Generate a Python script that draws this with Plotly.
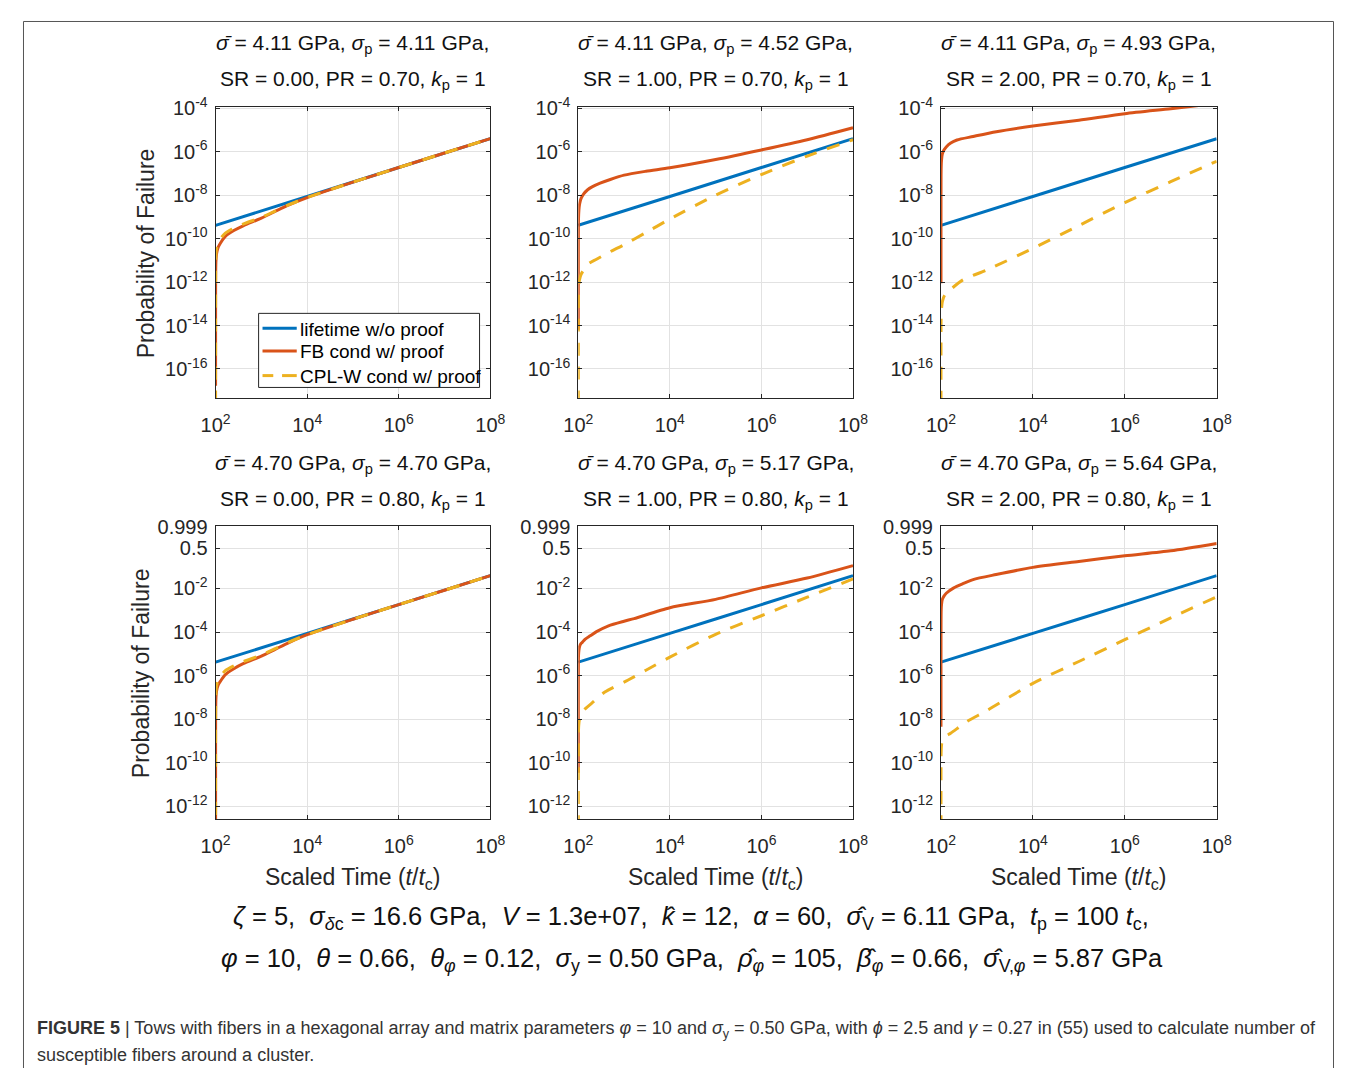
import numpy as np
import plotly.graph_objects as go

# The page keeps the browser's default 8px body margin, so the figure itself is
# sized to fill the remaining 1341 x 1060 area of the 1357 x 1076 window.
WIN_W, WIN_H = 1357, 1076
OFF = 8
FW, FH = WIN_W - 2 * OFF, WIN_H - 2 * OFF
FONT = "Liberation Sans, Arial, Helvetica, sans-serif"
C_BLUE, C_RED, C_YEL = "#0072BD", "#D95319", "#EDB120"
AX = "#262626"

# ---------------- axis ticks ----------------
xtick_vals = [1e2, 1e4, 1e6, 1e8]
xtick_text = ["10<sup>2</sup>", "10<sup>4</sup>", "10<sup>6</sup>", "10<sup>8</sup>"]
top_ytick_vals = [1e-16, 1e-14, 1e-12, 1e-10, 1e-8, 1e-6, 1e-4]
top_ytick_text = ["10<sup>-16</sup>", "10<sup>-14</sup>", "10<sup>-12</sup>", "10<sup>-10</sup>",
                  "10<sup>-8</sup>", "10<sup>-6</sup>", "10<sup>-4</sup>"]
bot_ytick_probs = [1e-12, 1e-10, 1e-8, 1e-6, 1e-4, 1e-2, 0.5, 0.999]
bot_ytick_text = ["10<sup>-12</sup>", "10<sup>-10</sup>", "10<sup>-8</sup>", "10<sup>-6</sup>",
                  "10<sup>-4</sup>", "10<sup>-2</sup>", "0.5", "0.999"]

# ---------------- data (scaled time t/t_c, log10 of probability of failure) ----------------
life_t = [1e2, 1e4, 1e6, 1e8]
top_life_lp = [-9.39, -8.06, -6.73, -5.40]
bot_life_lp = [-5.38, -4.06, -2.74, -1.418]

# top row, SR = 0.00
a1_fb_t = [100, 100.1, 100.5, 102, 105, 114, 128, 163, 250, 400, 1000, 2000, 4000, 1e4, 1e5, 1e6, 1e7, 1e8]
a1_fb_lp = [-16.77, -12.5, -11.5, -11.0, -10.7, -10.4, -10.2, -9.9, -9.63, -9.41, -9.06, -8.75, -8.45, -8.11, -7.40, -6.73, -6.06, -5.40]
a1_cpl_t = a1_fb_t
a1_cpl_lp = [-17.6, -12.0, -11.2, -10.7, -10.45, -10.2, -10.0, -9.75, -9.52, -9.33, -9.02, -8.73, -8.44, -8.11, -7.40, -6.73, -6.06, -5.40]

# top row, SR = 1.00
a2_fb_t = [100, 100.05, 100.2, 100.5, 101, 103, 107, 115, 130, 160, 200, 300, 500, 1000, 3000, 1e4, 1e5, 1e6, 1e7, 1e8]
a2_fb_lp = [-14.2, -11.5, -10.2, -9.5, -9.1, -8.7, -8.4, -8.15, -7.95, -7.75, -7.62, -7.45, -7.28, -7.08, -6.9, -6.74, -6.36, -5.92, -5.45, -4.90]
a2_cpl_t = [100, 100.1, 100.5, 102, 106, 115, 130, 170, 250, 500, 1000, 3000, 1e4, 1e5, 1e6, 1e7, 1e8]
a2_cpl_lp = [-17.6, -13.5, -12.6, -12.2, -11.9, -11.65, -11.45, -11.15, -10.95, -10.6, -10.28, -9.72, -9.1, -8.0, -7.05, -6.2, -5.45]

# top row, SR = 2.00
a3_fb_t = [100, 100.02, 100.1, 100.3, 101, 103, 107, 116, 130, 163, 223, 500, 1600, 1e4, 1e5, 1e6, 1e7, 1e8]
a3_fb_lp = [-12.05, -9.5, -8.0, -7.2, -6.7, -6.35, -6.1, -5.92, -5.78, -5.6, -5.46, -5.3, -5.08, -4.82, -4.55, -4.25, -4.02, -3.78]
a3_cpl_t = [100, 100.1, 100.5, 102, 107, 120, 160, 300, 1000, 1e4, 1e5, 1e6, 1e7, 1e8]
a3_cpl_lp = [-17.6, -14.5, -13.7, -13.3, -12.9, -12.6, -12.35, -11.9, -11.44, -10.45, -9.4, -8.34, -7.38, -6.44]

# bottom row, SR = 0.00
b1_fb_t = a1_fb_t
b1_fb_lp = [-13.0, -8.5, -7.5, -7.0, -6.7, -6.42, -6.25, -5.95, -5.68, -5.45, -5.1, -4.79, -4.48, -4.12, -3.41, -2.74, -2.08, -1.418]
b1_cpl_t = a1_fb_t
b1_cpl_lp = [-13.5, -8.0, -7.2, -6.7, -6.45, -6.2, -6.02, -5.77, -5.55, -5.36, -5.05, -4.76, -4.46, -4.12, -3.41, -2.74, -2.08, -1.418]

# bottom row, SR = 1.00
b2_fb_t = [100, 100.05, 100.2, 100.5, 101, 103, 107, 115, 122, 140, 182, 250, 457, 1000, 1660, 1e4, 1e5, 1e6, 1e7, 1e8]
b2_fb_lp = [-10.45, -7.5, -6.2, -5.5, -5.1, -4.85, -4.65, -4.52, -4.47, -4.33, -4.17, -3.98, -3.71, -3.5, -3.38, -2.88, -2.50, -1.972, -1.527, -0.974]
b2_cpl_t = [100, 100.1, 100.5, 102, 106, 115, 145, 200, 380, 1200, 3000, 1e4, 1e5, 1e6, 1e7, 1e8]
b2_cpl_lp = [-13.0, -9.5, -8.7, -8.3, -8.0, -7.75, -7.5, -7.25, -6.75, -6.21, -5.75, -5.15, -4.1, -3.25, -2.4, -1.565]

# bottom row, SR = 2.00
b3_fb_t = [100, 100.02, 100.1, 100.3, 101, 103, 107, 116, 130, 190, 300, 500, 1585, 1e4, 1e5, 1e6, 1e7, 1e8]
b3_fb_lp = [-8.34, -5.6, -4.2, -3.5, -3.0, -2.7, -2.5, -2.35, -2.22, -1.972, -1.784, -1.596, -1.369, -1.05, -0.797, -0.567, -0.381, -0.161]
b3_cpl_t = [100, 100.1, 100.5, 102, 107, 120, 162, 363, 1000, 1e4, 1e5, 1e6, 1e7, 1e8]
b3_cpl_lp = [-13.0, -10.2, -9.6, -9.25, -8.95, -8.8, -8.64, -8.11, -7.6, -6.35, -5.35, -4.35, -3.35, -2.38]

titles_line1 = [
    "<i>σ̄</i> = 4.11 GPa, <i>σ</i><sub>p</sub> = 4.11 GPa,",
    "<i>σ̄</i> = 4.11 GPa, <i>σ</i><sub>p</sub> = 4.52 GPa,",
    "<i>σ̄</i> = 4.11 GPa, <i>σ</i><sub>p</sub> = 4.93 GPa,",
    "<i>σ̄</i> = 4.70 GPa, <i>σ</i><sub>p</sub> = 4.70 GPa,",
    "<i>σ̄</i> = 4.70 GPa, <i>σ</i><sub>p</sub> = 5.17 GPa,",
    "<i>σ̄</i> = 4.70 GPa, <i>σ</i><sub>p</sub> = 5.64 GPa,",
]
titles_line2 = [
    "SR = 0.00, PR = 0.70, <i>k</i><sub>p</sub> = 1",
    "SR = 1.00, PR = 0.70, <i>k</i><sub>p</sub> = 1",
    "SR = 2.00, PR = 0.70, <i>k</i><sub>p</sub> = 1",
    "SR = 0.00, PR = 0.80, <i>k</i><sub>p</sub> = 1",
    "SR = 1.00, PR = 0.80, <i>k</i><sub>p</sub> = 1",
    "SR = 2.00, PR = 0.80, <i>k</i><sub>p</sub> = 1",
]
series_names = ["lifetime w/o proof", "FB cond w/ proof", "CPL-W cond w/ proof"]


def weibull_scale(p):
    p = np.asarray(p, dtype=float)
    return np.log10(-np.log1p(-p))


# window-pixel geometry of the reference
col_px = [(205, 486), (576, 857), (947, 1229)]
row_px = [(95, 390), (519, 816)]


def px_x(x):
    return (x - OFF) / FW


def px_y(y):
    return 1 - (y - OFF) / FH


fig = go.Figure()

panels = [
    (0, 0, top_life_lp, a1_fb_t, a1_fb_lp, a1_cpl_t, a1_cpl_lp),
    (0, 1, top_life_lp, a2_fb_t, a2_fb_lp, a2_cpl_t, a2_cpl_lp),
    (0, 2, top_life_lp, a3_fb_t, a3_fb_lp, a3_cpl_t, a3_cpl_lp),
    (1, 0, bot_life_lp, b1_fb_t, b1_fb_lp, b1_cpl_t, b1_cpl_lp),
    (1, 1, bot_life_lp, b2_fb_t, b2_fb_lp, b2_cpl_t, b2_cpl_lp),
    (1, 2, bot_life_lp, b3_fb_t, b3_fb_lp, b3_cpl_t, b3_cpl_lp),
]

annotations = []
shapes = []
layout_axes = {}
for i, (r, c, life_lp, fb_t, fb_lp, cpl_t, cpl_lp) in enumerate(panels):
    k = i + 1
    xa = "x" if k == 1 else f"x{k}"
    ya = "y" if k == 1 else f"y{k}"
    series = [
        (life_t, life_lp, C_BLUE, "solid"),
        (fb_t, fb_lp, C_RED, "solid"),
        (cpl_t, cpl_lp, C_YEL, "13px,11px"),
    ]
    for j, (tt, lp, col, dash) in enumerate(series):
        p = 10.0 ** np.asarray(lp, dtype=float)
        y = p if r == 0 else weibull_scale(p)
        fig.add_trace(go.Scatter(
            x=tt, y=y, mode="lines", name=series_names[j],
            line=dict(color=col, width=3, dash=dash, shape="spline", smoothing=0.7),
            showlegend=False, xaxis=xa, yaxis=ya, hoverinfo="skip",
        ))

    x0, x1 = col_px[c]
    y0, y1 = row_px[r]
    xkey = "xaxis" if k == 1 else f"xaxis{k}"
    ykey = "yaxis" if k == 1 else f"yaxis{k}"
    common = dict(showgrid=True, gridcolor="#e2e2e2", gridwidth=1, showline=True,
                  linecolor=AX, linewidth=1, mirror="allticks", ticks="inside",
                  ticklen=4, tickcolor=AX, zeroline=False,
                  tickfont=dict(size=20, color=AX, family=FONT))
    layout_axes[xkey] = dict(common, type="log", range=[2, 8], tickvals=xtick_vals,
                             ticktext=xtick_text, domain=[px_x(x0), px_x(x1)],
                             anchor=ya, ticklabelstandoff=9)
    if r == 0:
        layout_axes[ykey] = dict(common, type="log", range=[-17.35, -3.94],
                                 tickvals=top_ytick_vals, ticktext=top_ytick_text,
                                 domain=[px_y(y1), px_y(y0)], anchor=xa, ticklabelstandoff=3)
    else:
        layout_axes[ykey] = dict(common, type="linear", range=[-12.58, 0.88],
                                 tickvals=list(weibull_scale(bot_ytick_probs)),
                                 ticktext=bot_ytick_text,
                                 domain=[px_y(y1), px_y(y0)], anchor=xa, ticklabelstandoff=3)

    cx = px_x((x0 + x1) / 2)
    t1y = 31 if r == 0 else 456
    t2y = 68 if r == 0 else 493
    for txt, ty in ((titles_line1[i], t1y), (titles_line2[i], t2y)):
        annotations.append(dict(text=txt, x=cx, y=px_y(ty), xref="paper", yref="paper",
                                showarrow=False, xanchor="center", yanchor="middle",
                                font=dict(size=21, color="#111", family=FONT)))
    if r == 1:
        annotations.append(dict(text="Scaled Time (<i>t</i>/<i>t</i><sub>c</sub>)",
                                x=cx, y=px_y(876), xref="paper", yref="paper",
                                showarrow=False, xanchor="center", yanchor="middle",
                                font=dict(size=23, color=AX, family=FONT)))

# y-axis titles
for ycen, xcen in ((243, 134), (668, 129)):
    annotations.append(dict(text="Probability of Failure", x=px_x(xcen), y=px_y(ycen), xref="paper",
                            yref="paper", showarrow=False, textangle=-90, xanchor="center",
                            yanchor="middle", font=dict(size=23, color=AX, family=FONT)))

# legend box drawn inside the first panel
leg_rows = [319, 342, 367]
shapes.append(dict(type="rect", xref="paper", yref="paper", x0=px_x(249), x1=px_x(475),
                   y0=px_y(379), y1=px_y(304), fillcolor="white", line=dict(color=AX, width=1),
                   layer="above"))
shapes.append(dict(type="line", xref="paper", yref="paper", x0=px_x(253), x1=px_x(288),
                   y0=px_y(leg_rows[0]), y1=px_y(leg_rows[0]), line=dict(color=C_BLUE, width=3),
                   layer="above"))
shapes.append(dict(type="line", xref="paper", yref="paper", x0=px_x(253), x1=px_x(288),
                   y0=px_y(leg_rows[1]), y1=px_y(leg_rows[1]), line=dict(color=C_RED, width=3),
                   layer="above"))
for sx0, sx1 in ((253, 264), (273, 288)):
    shapes.append(dict(type="line", xref="paper", yref="paper", x0=px_x(sx0), x1=px_x(sx1),
                       y0=px_y(leg_rows[2]), y1=px_y(leg_rows[2]), line=dict(color=C_YEL, width=3),
                       layer="above"))
for name, ly in zip(series_names, leg_rows):
    annotations.append(dict(text=name, x=px_x(289), y=px_y(ly + 1), xref="paper", yref="paper",
                            showarrow=False, xanchor="left", yanchor="middle",
                            font=dict(size=19, color="#000", family=FONT)))

sp = "\u00a0"
param1 = (f"<i>ζ</i> = 5,{sp} <i>σ</i><sub><i>δ</i>c</sub> = 16.6 GPa,{sp} <i>V</i> = 1.3e+07,{sp} "
          f"<i>k̂</i> = 12,{sp} <i>α</i> = 60,{sp} <i>σ̂</i><sub>V</sub> = 6.11 GPa,{sp} "
          f"<i>t</i><sub>p</sub> = 100 <i>t</i><sub>c</sub>,")
param2 = (f"<i>φ</i> = 10,{sp} <i>θ</i> = 0.66,{sp} <i>θ</i><sub><i>φ</i></sub> = 0.12,{sp} "
          f"<i>σ</i><sub>y</sub> = 0.50 GPa,{sp} <i>ρ̂</i><sub><i>φ</i></sub> = 105,{sp} "
          f"<i>β̂</i><sub><i>φ</i></sub> = 0.66,{sp} <i>σ̂</i><sub>V,<i>φ</i></sub> = 5.87 GPa")
annotations.append(dict(text=param1, x=px_x(691), y=px_y(916), xref="paper", yref="paper",
                        showarrow=False, xanchor="center", yanchor="middle",
                        font=dict(size=25.5, color="#111", family=FONT)))
annotations.append(dict(text=param2, x=px_x(692), y=px_y(959), xref="paper", yref="paper",
                        showarrow=False, xanchor="center", yanchor="middle",
                        font=dict(size=25.5, color="#111", family=FONT)))

cap1 = ("<b>FIGURE 5</b> | Tows with fibers in a hexagonal array and matrix parameters <i>φ</i> = 10 and "
        "<i>σ</i><sub>y</sub> = 0.50 GPa, with <i>ϕ</i> = 2.5 and <i>γ</i> = 0.27 in (55) used to calculate number of")
cap2 = "susceptible fibers around a cluster."
annotations.append(dict(text=cap1, x=px_x(20), y=px_y(1029), xref="paper", yref="paper",
                        showarrow=False, xanchor="left", yanchor="middle",
                        font=dict(size=18, color="#333", family=FONT)))
annotations.append(dict(text=cap2, x=px_x(20), y=px_y(1055), xref="paper", yref="paper",
                        showarrow=False, xanchor="left", yanchor="middle",
                        font=dict(size=18, color="#333", family=FONT)))

# outer frame of the figure panel (open at the bottom), kept inside the figure area
fx0, fx1, fy0, fyb = 0.5, FW - 0.5, 0.5, FH
shapes.append(dict(type="path", xref="paper", yref="paper",
                   path=(f"M {fx0 / FW},{1 - fyb / FH} L {fx0 / FW},{1 - fy0 / FH} "
                         f"L {fx1 / FW},{1 - fy0 / FH} L {fx1 / FW},{1 - fyb / FH}"),
                   line=dict(color="#555", width=1)))

fig.update_layout(
    width=FW, height=FH, autosize=False,
    margin=dict(l=0, r=0, t=0, b=0),
    paper_bgcolor="white", plot_bgcolor="white",
    font=dict(family=FONT, color=AX),
    annotations=annotations, shapes=shapes, showlegend=False,
    **layout_axes,
)

fig.write_html("out.html", config={"displayModeBar": False})
